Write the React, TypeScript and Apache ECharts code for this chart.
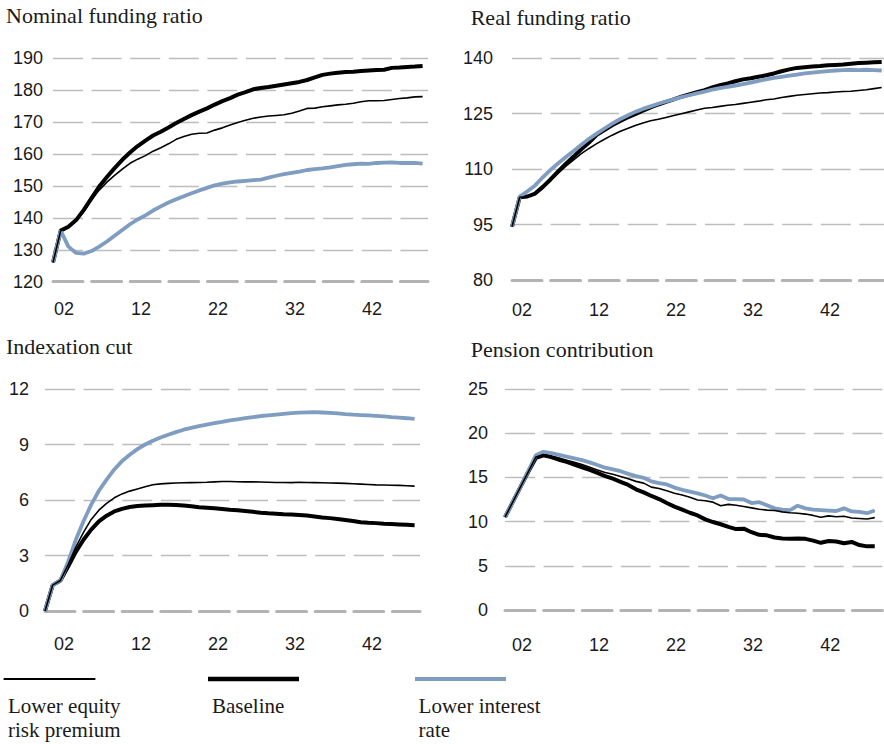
import React, { useEffect, useRef } from "react";
import * as echarts from "echarts";

const startYear = 2002;
const xTickLabels = ["02", "12", "22", "32", "42"];
const legendNames = ["Lower equity\nrisk premium", "Baseline", "Lower interest\nrate"];
const panelTitles = ["Nominal funding ratio", "Real funding ratio", "Indexation cut", "Pension contribution"];

// Nominal funding ratio
const nomBaseline = [126, 136, 137.2, 139.3, 142.5, 146.2, 149.8, 152.8, 155.6, 158.2, 160.5, 162.5, 164.2, 165.8, 167.0, 168.3, 169.7, 171.0, 172.2, 173.3, 174.3, 175.5, 176.6, 177.5, 178.6, 179.4, 180.3, 180.7, 181.0, 181.4, 181.8, 182.2, 182.6, 183.2, 184.0, 184.8, 185.2, 185.5, 185.7, 185.8, 186.0, 186.2, 186.3, 186.4, 187.0, 187.1, 187.3, 187.4, 187.6];
const nomEquity = [126, 136, 137.0, 139.0, 142.0, 145.6, 148.7, 151.2, 153.3, 155.3, 157.1, 158.4, 159.5, 160.9, 162.0, 163.2, 164.6, 165.5, 166.2, 166.5, 166.6, 167.5, 168.2, 169.1, 169.9, 170.6, 171.2, 171.6, 171.9, 172.1, 172.3, 172.8, 173.5, 174.3, 174.4, 174.8, 175.1, 175.4, 175.6, 175.9, 176.4, 176.7, 176.7, 176.8, 177.1, 177.4, 177.6, 177.9, 178.0];
const nomInterest = [126, 136, 131.0, 129.0, 128.8, 129.6, 131.0, 132.6, 134.4, 136.2, 138.0, 139.5, 140.8, 142.3, 143.6, 144.8, 145.8, 146.8, 147.7, 148.6, 149.4, 150.2, 150.7, 151.1, 151.4, 151.6, 151.8, 152.0, 152.6, 153.2, 153.7, 154.1, 154.5, 155.0, 155.3, 155.5, 155.8, 156.2, 156.6, 156.8, 157.0, 156.9, 157.2, 157.3, 157.4, 157.2, 157.2, 157.2, 157.0];

// Real funding ratio
const realBaseline = [94.4, 102.4, 102.6, 103.4, 105.2, 107.2, 109.4, 111.5, 113.4, 115.4, 117.2, 119.3, 120.6, 121.9, 123.0, 124.0, 124.9, 125.8, 126.7, 127.5, 128.2, 128.9, 129.6, 130.2, 130.8, 131.4, 132.1, 132.7, 133.2, 133.8, 134.3, 134.6, 135.0, 135.4, 135.9, 136.5, 137.0, 137.4, 137.6, 137.8, 137.9, 138.1, 138.2, 138.3, 138.5, 138.7, 138.8, 138.9, 139.0];
const realEquity = [94.4, 102.4, 102.6, 103.2, 104.8, 106.9, 108.9, 110.8, 112.5, 114.2, 115.6, 116.9, 118.1, 119.2, 120.2, 121.0, 121.8, 122.5, 123.1, 123.5, 124.0, 124.5, 125.0, 125.5, 126.0, 126.5, 126.7, 127.0, 127.3, 127.5, 127.8, 128.1, 128.4, 128.8, 129.0, 129.4, 129.7, 130.0, 130.2, 130.4, 130.6, 130.7, 130.9, 131.0, 131.1, 131.3, 131.5, 131.8, 132.1];
const realInterest = [94.4, 102.6, 104.0, 105.6, 107.8, 109.8, 111.6, 113.3, 114.9, 116.6, 118.2, 119.6, 121.0, 122.3, 123.5, 124.5, 125.5, 126.3, 127.0, 127.7, 128.3, 128.9, 129.5, 130.0, 130.5, 131.0, 131.5, 131.9, 132.3, 132.6, 133.0, 133.4, 133.9, 134.3, 134.7, 135.0, 135.3, 135.6, 135.9, 136.1, 136.3, 136.5, 136.7, 136.8, 136.9, 136.8, 136.9, 136.8, 136.7];

// Indexation cut
const cutBaseline = [0, 1.4, 1.65, 2.4, 3.2, 3.85, 4.4, 4.85, 5.15, 5.38, 5.52, 5.62, 5.67, 5.70, 5.72, 5.74, 5.74, 5.73, 5.70, 5.66, 5.61, 5.58, 5.55, 5.51, 5.47, 5.44, 5.40, 5.36, 5.31, 5.28, 5.26, 5.23, 5.21, 5.19, 5.16, 5.11, 5.06, 5.02, 4.97, 4.92, 4.87, 4.80, 4.77, 4.75, 4.72, 4.70, 4.68, 4.66, 4.64];
const cutEquity = [0, 1.4, 1.65, 2.5, 3.45, 4.25, 4.95, 5.45, 5.82, 6.12, 6.33, 6.48, 6.60, 6.72, 6.82, 6.87, 6.90, 6.92, 6.93, 6.94, 6.95, 6.96, 6.98, 7.0, 7.0, 6.99, 6.98, 6.98, 6.97, 6.96, 6.95, 6.95, 6.94, 6.96, 6.95, 6.94, 6.93, 6.92, 6.91, 6.90, 6.88, 6.86, 6.84, 6.82, 6.81, 6.80, 6.79, 6.77, 6.75];
const cutInterest = [0, 1.4, 1.65, 2.65, 3.85, 4.85, 5.75, 6.5, 7.1, 7.65, 8.1, 8.45, 8.75, 9.0, 9.2, 9.38, 9.53, 9.67, 9.80, 9.90, 9.99, 10.07, 10.15, 10.22, 10.30, 10.36, 10.42, 10.48, 10.54, 10.58, 10.62, 10.66, 10.70, 10.72, 10.74, 10.75, 10.73, 10.71, 10.68, 10.64, 10.61, 10.59, 10.57, 10.55, 10.52, 10.48, 10.45, 10.42, 10.38];

// Pension contribution
const conBaseline = [10.5, 12.2, 13.9, 15.6, 17.2, 17.5, 17.3, 17.0, 16.75, 16.45, 16.15, 15.85, 15.5, 15.15, 14.85, 14.5, 14.15, 13.65, 13.3, 12.9, 12.55, 12.1, 11.7, 11.35, 11.0, 10.7, 10.25, 9.95, 9.7, 9.4, 9.15, 9.2, 8.8, 8.5, 8.45, 8.2, 8.1, 8.05, 8.1, 8.05, 7.85, 7.6, 7.8, 7.75, 7.55, 7.7, 7.35, 7.2, 7.2];
const conEquity = [10.5, 12.2, 13.9, 15.6, 17.3, 17.6, 17.4, 17.2, 16.95, 16.7, 16.45, 16.15, 15.85, 15.55, 15.35, 15.1, 14.85, 14.55, 14.35, 13.9, 13.75, 13.5, 13.2, 13.0, 12.75, 12.45, 12.35, 12.2, 11.8, 11.95, 11.85, 11.7, 11.55, 11.4, 11.3, 11.25, 11.1, 11.0, 10.95, 10.85, 10.7, 10.5, 10.65, 10.55, 10.6, 10.4, 10.35, 10.3, 10.45];
const conInterest = [10.5, 12.2, 13.9, 15.7, 17.5, 17.9, 17.75, 17.55, 17.35, 17.15, 16.95, 16.7, 16.4, 16.1, 15.9, 15.7, 15.4, 15.15, 14.95, 14.55, 14.35, 14.2, 13.85, 13.6, 13.4, 13.2, 12.95, 12.65, 12.95, 12.55, 12.55, 12.5, 12.1, 12.2, 11.85, 11.5, 11.35, 11.3, 11.8, 11.5, 11.35, 11.3, 11.25, 11.2, 11.5, 11.15, 11.1, 10.95, 11.25];

const yMins = [120, 80, 0, 0];
const yMaxs = [190, 140, 12, 25];
const yIntervals = [10, 15, 3, 5];

const BLUE = "#7f9dc0";
const GRID_COLOR = "#bdbdbd";
const DASH = [30, 8.6];
const NUM_FONT = "Liberation Sans, Arial, sans-serif";
const SERIF = "Liberation Serif, Times New Roman, serif";

const panels = [
  { base: nomBaseline, eq: nomEquity, ir: nomInterest },
  { base: realBaseline, eq: realEquity, ir: realInterest },
  { base: cutBaseline, eq: cutEquity, ir: cutInterest },
  { base: conBaseline, eq: conEquity, ir: conInterest },
];

const gridBoxes = [
  { left: 53, top: 58.3, width: 375, height: 223.4, xMax: 48.7, yLabelMargin: 10, xLabelPad: 1, xLabelMargin: 18 },
  { left: 512, top: 58.3, width: 372, height: 221.7, xMax: 48.3, yLabelMargin: 19, xLabelPad: 0, xLabelMargin: 21 },
  { left: 45, top: 389, width: 375, height: 222, xMax: 48.7, yLabelMargin: 16, xLabelPad: 9, xLabelMargin: 24 },
  { left: 505, top: 389, width: 379, height: 221, xMax: 49.2, yLabelMargin: 17, xLabelPad: 7, xLabelMargin: 26 },
];

const titlePos = [
  { x: 6, y: 4 },
  { x: 470.7, y: 6 },
  { x: 6, y: 335 },
  { x: 470.7, y: 338 },
];

const toXY = (arr: number[]) => arr.map((v, i) => [i, v]);

export default function App() {
  const ref = useRef<HTMLDivElement>(null);
  useEffect(() => {
    if (!ref.current) return;
    const chart = echarts.init(ref.current, undefined, { renderer: "svg" });
    const grid = gridBoxes.map((g) => ({ left: g.left, top: g.top, width: g.width, height: g.height, containLabel: false }));
    const xAxis = gridBoxes.map((g, k) => ({
      type: "value",
      gridIndex: k,
      min: 0,
      max: g.xMax,
      interval: 10,
      axisTick: { show: false },
      splitLine: { show: false },
      axisLine: { show: true, onZero: false, lineStyle: { color: "#b3b3b3", width: 3, type: DASH } },
      axisLabel: {
        color: "#1a1a1a",
        fontFamily: NUM_FONT,
        fontSize: 18,
        align: "left",
        margin: g.xLabelMargin,
        padding: [0, 0, 0, g.xLabelPad],
        showMaxLabel: false,
        formatter: (v: number) => xTickLabels[Math.round(v / 10)] ?? "",
      },
    }));
    const yAxis = gridBoxes.map((g, k) => ({
      type: "value",
      gridIndex: k,
      min: yMins[k],
      max: yMaxs[k],
      interval: yIntervals[k],
      axisLine: { show: false },
      axisTick: { show: false },
      splitLine: { show: true, lineStyle: { color: GRID_COLOR, width: 1.3, type: DASH } },
      axisLabel: { color: "#1a1a1a", fontFamily: NUM_FONT, fontSize: 18, margin: g.yLabelMargin },
    }));
    const series: any[] = [];
    panels.forEach((p, k) => {
      series.push({ type: "line", name: "Baseline", xAxisIndex: k, yAxisIndex: k, data: toXY(p.base), showSymbol: false, lineStyle: { color: "#000", width: 4 }, z: 2 });
      series.push({ type: "line", name: "Lower interest rate", xAxisIndex: k, yAxisIndex: k, data: toXY(p.ir), showSymbol: false, lineStyle: { color: BLUE, width: 3.8 }, z: 3 });
      series.push({ type: "line", name: "Lower equity risk premium", xAxisIndex: k, yAxisIndex: k, data: toXY(p.eq), showSymbol: false, lineStyle: { color: "#000", width: 1.6 }, z: 4 });
    });
    const graphic: any[] = [];
    panelTitles.forEach((t, k) => {
      graphic.push({ type: "text", left: titlePos[k].x, top: titlePos[k].y, style: { text: t, font: `22px ${SERIF}`, fill: "#1a1a1a" } });
    });
    const legendLines = [
      { x1: 3.6, x2: 95.4, w: 2, c: "#000", tx: 8 },
      { x1: 208, x2: 299, w: 4.5, c: "#000", tx: 212 },
      { x1: 415, x2: 506, w: 4, c: BLUE, tx: 418.6 },
    ];
    legendLines.forEach((l, k) => {
      graphic.push({ type: "line", shape: { x1: l.x1, y1: 679, x2: l.x2, y2: 679 }, style: { stroke: l.c, lineWidth: l.w } });
      graphic.push({ type: "text", left: l.tx, top: 694, style: { text: legendNames[k], font: `21px ${SERIF}`, lineHeight: 24, fill: "#1a1a1a" } });
    });
    chart.setOption({
      animation: false,
      backgroundColor: "#fff",
      grid,
      xAxis,
      yAxis,
      series,
      graphic,
    });
    return () => chart.dispose();
  }, []);
  return <div ref={ref} style={{ position: "fixed", left: 0, top: 0, width: 884, height: 744 }} />;
}
